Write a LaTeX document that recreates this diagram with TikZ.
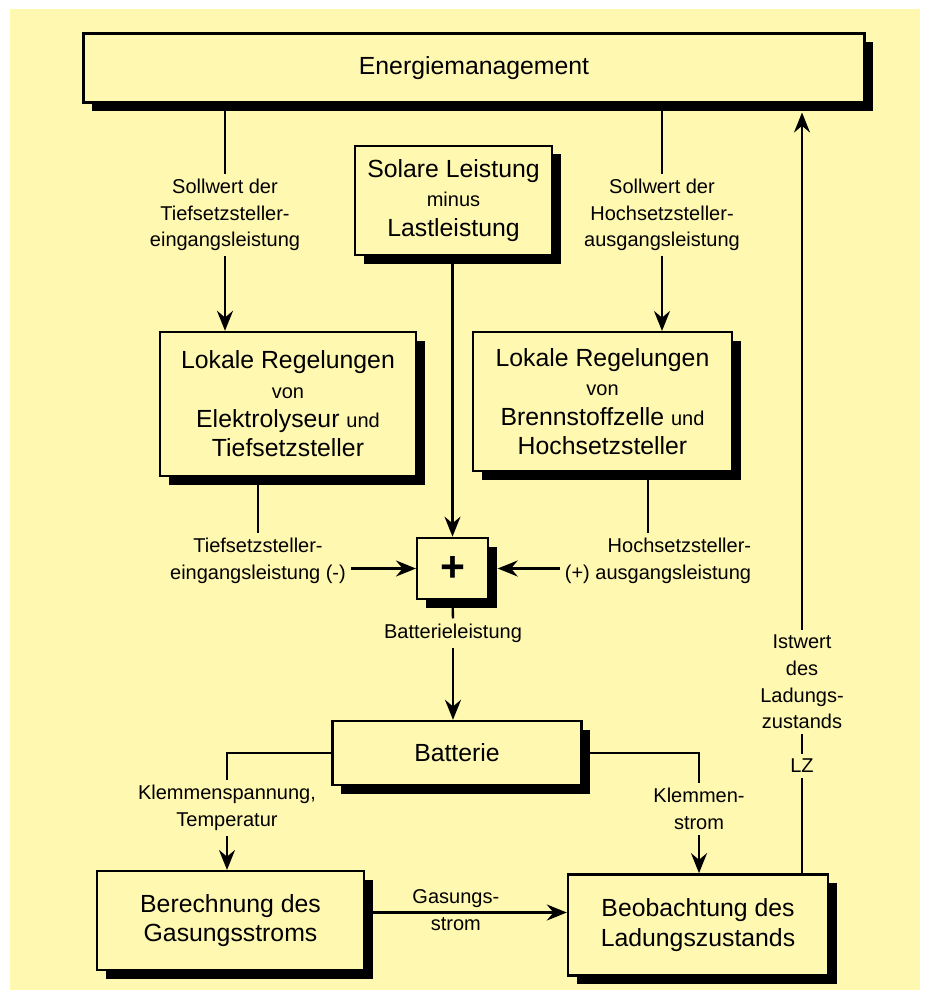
\documentclass[tikz,border=0pt]{standalone}
\usepackage{fontspec}
\setmainfont{Liberation Sans}
\usetikzlibrary{arrows.meta,shadows}
\definecolor{bgyellow}{RGB}{255,248,176}
\newcommand{\bigf}{\fontsize{18.6pt}{22pt}\selectfont}
\newcommand{\smallf}{\fontsize{15pt}{20pt}\selectfont}
\begin{document}
\begin{tikzpicture}[x=0.75pt,y=-0.75pt,line width=1.8pt]
\tikzstyle{box}=[draw,fill=bgyellow,align=center,font=\bigf,drop shadow={shadow xshift=6.5pt,shadow yshift=-6.5pt,fill=black,opacity=1}]
\tikzstyle{lab}=[align=center,font=\smallf,inner sep=3pt]
\tikzstyle{arr}=[-{Stealth[length=15pt,width=12pt,inset=5pt]}]
\useasboundingbox (0,0) rectangle (930,998);
\fill[bgyellow] (10,9) rectangle (920,990);

\path (474,68) node[box,minimum width=586pt,minimum height=52pt](em){Energiemanagement};
\path (453.5,200.5) node[box,minimum width=148pt,minimum height=82pt](solar){Solare Leistung\\{\smallf minus}\\Lastleistung};
\path (288,404) node[box,minimum width=192pt,minimum height=108pt](lok1){Lokale Regelungen\\{\smallf von}\\Elektrolyseur {\smallf und}\\Tiefsetzsteller};
\path (602.5,401.5) node[box,minimum width=194pt,minimum height=104pt](lok2){Lokale Regelungen\\{\smallf von}\\Brennstoffzelle {\smallf und}\\Hochsetzsteller};
\path (452.5,568.5) node[box,minimum width=53pt,minimum height=46pt](plus){\fontsize{32pt}{32pt}\selectfont\bfseries +};
\path (457,753) node[box,minimum width=187pt,minimum height=48pt](bat){Batterie};
\path (230.5,920.5) node[box,minimum width=200pt,minimum height=74pt](ber){Berechnung des\\Gasungsstroms};
\path (698,925) node[box,minimum width=195pt,minimum height=76pt](beo){Beobachtung des\\Ladungszustands};

\path (225,215) node[lab](sw1){Sollwert der\\Tiefsetzsteller-\\eingangsleistung};
\path (662,215) node[lab](sw2){Sollwert der\\Hochsetzsteller-\\ausgangsleistung};
\path (258,561) node[lab](ti){Tiefsetzsteller-\\eingangsleistung (-)};
\path (658,561) node[lab,align=right](ho){Hochsetzsteller-\\(+) ausgangsleistung};
\path (453,633) node[lab](bl){Batterieleistung};
\path (227,808) node[lab](kt){Klemmenspannung,\\Temperatur};
\path (699,809) node[lab](ks){Klemmen-\\strom};
\path (802,682) node[lab](iw){Istwert\\des\\Ladungs-\\zustands};
\path (802,766) node[lab](lz){LZ};
\coordinate (emb) at ([yshift=-6.5pt]em.south);

\draw[] (sw1.north |- em.south) -- (sw1.north);
\draw[arr] (sw1.south) -- (sw1.south |- lok1.north);
\draw[] (sw2.north |- em.south) -- (sw2.north);
\draw[arr] (sw2.south) -- (sw2.south |- lok2.north);
\draw[arr] (solar.south -| plus.north) -- (plus.north);
\draw[] (ti.north |- lok1.south) -- (ti.north);
\draw[arr] (ti.east |- plus.west) -- (plus.west);
\draw[] ([xshift=34pt]lok2.south) -- ([xshift=34pt]lok2.south |- ho.north);
\draw[arr] (ho.west |- plus.east) -- ([xshift=6.5pt]plus.east);
\draw[] (plus.south) -- (bl.north);
\draw[arr] (bl.south) -- (bl.south |- bat.north);
\draw[] (bat.west) -| (kt.north);
\draw[arr] (kt.south) -- (kt.south |- ber.north);
\draw[] (bat.east) -| (ks.north);
\draw[arr] (ks.south) -- (ks.south |- beo.north);
\draw[arr] ([yshift=6pt]ber.east) -- node[lab,above,pos=0.45](gs1){Gasungs-} node[lab,below,pos=0.45](gs2){strom} ([yshift=6pt]ber.east -| beo.west);
\draw[] (lz.south |- beo.north) -- (lz.south);
\draw[] (lz.north) -- (iw.south);
\draw[arr] (iw.north) -- (iw.north |- emb);
\end{tikzpicture}
\end{document}
